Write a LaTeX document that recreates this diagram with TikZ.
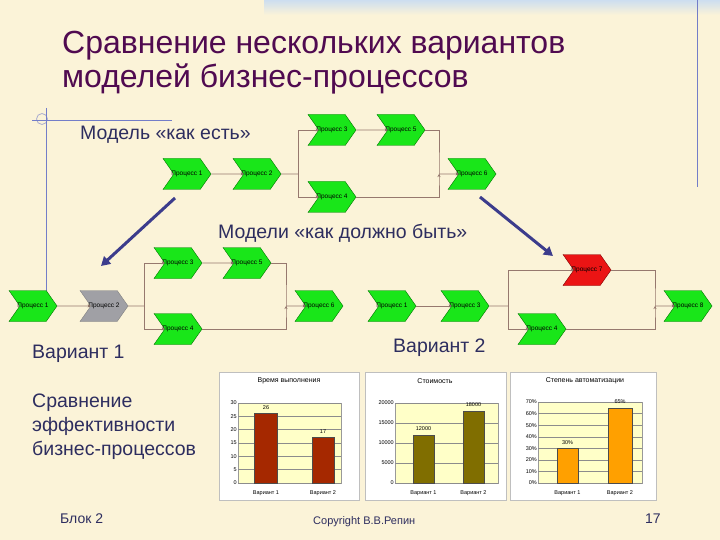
\documentclass[tikz,border=0pt]{standalone}
\usepackage{fontspec}
\setmainfont{Liberation Sans}
\usetikzlibrary{shapes.symbols,arrows.meta}

\definecolor{slidebg}{RGB}{251,243,216}
\definecolor{stripblue}{RGB}{205,222,240}
\definecolor{titlecol}{RGB}{80,10,80}
\definecolor{textcol}{RGB}{45,45,95}
\definecolor{arrowcol}{RGB}{60,60,140}
\definecolor{linecol}{RGB}{150,120,110}
\definecolor{decoblue}{RGB}{115,125,200}
\definecolor{procgreen}{RGB}{25,230,25}
\definecolor{procred}{RGB}{235,20,20}
\definecolor{procgrey}{RGB}{160,160,165}
\definecolor{plotbg}{RGB}{255,255,200}
\definecolor{barred}{RGB}{165,40,0}
\definecolor{barolive}{RGB}{128,110,0}
\definecolor{barorange}{RGB}{255,160,0}

\tikzset{
  proc/.style={shape=signal, signal to=east, signal from=west, signal pointer angle=110,
    draw=green!45!black, fill=procgreen, minimum width=48pt, minimum height=31pt,
    inner xsep=-2.5pt, inner ysep=0pt, font=\fontsize{6.5}{7}\selectfont},
  flow/.style={draw=linecol, line width=0.6pt, -{Stealth[length=3pt,width=3pt]}},
  link/.style={draw=linecol, line width=0.6pt},
  bigarrow/.style={draw=arrowcol, line width=3pt, -{Triangle[length=9pt,width=10pt]}},
  slidetext/.style={text=textcol, font=\fontsize{19.5}{23}\selectfont, anchor=base west, inner sep=0pt},
  titletext/.style={text=titlecol, font=\fontsize{32}{38}\selectfont, anchor=base west, inner sep=0pt},
  deco/.style={draw=decoblue, line width=0.8pt},
  panel/.style={fill=white, draw=black!25, line width=0.6pt},
  plotarea/.style={fill=plotbg, draw=black!40, line width=0.4pt},
  grid/.style={draw=black!45, line width=0.4pt},
  tick/.style={font=\fontsize{5.5}{6}\selectfont, inner sep=1pt},
  charttitle/.style={font=\fontsize{7}{8}\selectfont, inner sep=0pt},
  bar/.style={draw=black!70, line width=0.5pt},
}

\begin{document}
\begin{tikzpicture}[x=1pt, y=-1pt]
	\useasboundingbox (0,0) rectangle (720,540);
	\fill[slidebg] (0,0) rectangle (720,540);
	\shade[top color=stripblue, bottom color=slidebg] (264,0) rectangle (720,15);
	
	% slide decoration
	\draw[deco] (32,120) -- (172,120);
	\draw[deco] (46,108) -- (46,291);
	\draw[deco] (697,0) -- (697,187);
	\draw[deco, draw opacity=0.6] (42,119) circle (5.5);
	
	% title
	\node[titletext] (title1) at (62,54) {Сравнение нескольких вариантов};
	\node[titletext] (title2) at (62,88) {моделей бизнес-процессов};
	
	\node[slidetext] (asis) at (80,140) {Модель «как есть»};
	\node[slidetext] (tobe) at (218,239) {Модели «как должно быть»};
	\node[slidetext] (var1) at (32,358) {Вариант 1};
	\node[slidetext] (var2) at (393,352) {Вариант 2};
	\node[slidetext] (cmp1) at (32,407) {Сравнение};
	\node[slidetext] (cmp2) at (32,431) {эффективности};
	\node[slidetext] (cmp3) at (32,455) {бизнес-процессов};
	
	% model "as is"
	\node[proc] (a1) at (187,174) {Процесс 1};
	\node[proc] (a2) at (257,174) {Процесс 2};
	\node[proc] (a3) at (332,130) {Процесс 3};
	\node[proc] (a5) at (401,130) {Процесс 5};
	\node[proc] (a4) at (332,197) {Процесс 4};
	\node[proc] (a6) at (472,174) {Процесс 6};
	\coordinate (sa) at (298,174);
	\coordinate (ja) at (439,174);
	
	\path[flow] (a1) edge (a2);
	\path[flow] (a3) edge (a5);
	\draw[link] (a2) -- (sa);
	\draw[flow] (sa) |- (a3);
	\draw[flow] (sa) |- (a4);
	\draw[link] (a5) -| (ja) |- (a4);
	\path[flow] (ja) edge (a6);
	
	% variant 1
	\node[proc] (v1) at (33,306) {Процесс 1};
	\node[proc, fill=procgrey, draw=black!50] (v2) at (104,306) {Процесс 2};
	\node[proc] (v3) at (178,263) {Процесс 3};
	\node[proc] (v5) at (247,263) {Процесс 5};
	\node[proc] (v4) at (178,329) {Процесс 4};
	\node[proc] (v6) at (319,306) {Процесс 6};
	\coordinate (sv) at (144,306);
	\coordinate (jv) at (286,306);
	
	\path[flow] (v1) edge (v2);
	\path[flow] (v3) edge (v5);
	\draw[link] (v2) -- (sv);
	\draw[flow] (sv) |- (v3);
	\draw[flow] (sv) |- (v4);
	\draw[link] (v5) -| (jv) |- (v4);
	\path[flow] (jv) edge (v6);
	
	% variant 2
	\node[proc] (w1) at (392,306) {Процесс 1};
	\node[proc] (w3) at (465,306) {Процесс 3};
	\node[proc, fill=procred, draw=red!50!black] (w7) at (587,270) {Процесс 7};
	\node[proc] (w4) at (542,329) {Процесс 4};
	\node[proc] (w8) at (688,306) {Процесс 8};
	\coordinate (sw) at (508,306);
	\coordinate (jw) at (655,306);
	
	\path[flow] (w1) edge (w3);
	\draw[link] (w3) -- (sw);
	\draw[flow] (sw) |- (w7);
	\draw[flow] (sw) |- (w4);
	\draw[link] (w7) -| (jw) |- (w4);
	\path[flow] (jw) edge (w8);
	
	% arrows to the variants
	\coordinate (l-from) at (175,198);
	\coordinate (l-to) at (101,266);
	\coordinate (r-from) at (480,197);
	\coordinate (r-to) at (553,256);
	\draw[bigarrow] (l-from) -- (l-to);
	\draw[bigarrow] (r-from) -- (r-to);
	
	% chart: time
	\draw[panel] (219,372) rectangle (359,500);
	\node[charttitle] (c1title) at (289,381) {Время выполнения};
	\draw[plotarea] (238,403) rectangle (341,483);
	\foreach \v in {0,5,...,30} {
		\draw[grid] (238,{483-\v*80/30}) -- (341,{483-\v*80/30});
		\node[tick, anchor=east] (c1t\v) at (238,{483-\v*80/30}) {\v};
	}
	\draw[bar, fill=barred] (254.5,483) rectangle (277.5,{483-26*80/30});
	\draw[bar, fill=barred] (312,483) rectangle (334,{483-17*80/30});
	\node[tick] (c1v1) at (266,{477-26*80/30}) {26};
	\node[tick] (c1v2) at (323,{477-17*80/30}) {17};
	\node[tick] (c1x1) at (266,493) {Вариант 1};
	\node[tick] (c1x2) at (323,493) {Вариант 2};
	
	% chart: cost (values in thousands)
	\draw[panel] (365,372) rectangle (506,500);
	\node[charttitle] (c2title) at (435,381) {Стоимость};
	\draw[plotarea] (395,403) rectangle (498,483);
	\foreach \v/\lab in {0/0,5/5000,10/10000,15/15000,20/20000} {
		\draw[grid] (395,{483-\v*4}) -- (498,{483-\v*4});
		\node[tick, anchor=east] (c2t\v) at (395,{483-\v*4}) {\lab};
	}
	\draw[bar, fill=barolive] (413,483) rectangle (434,{483-12*4});
	\draw[bar, fill=barolive] (463,483) rectangle (484,{483-18*4});
	\node[tick] (c2v1) at (423.5,{477-12*4}) {12000};
	\node[tick] (c2v2) at (473.5,{477-18*4}) {18000};
	\node[tick] (c2x1) at (423.5,493) {Вариант 1};
	\node[tick] (c2x2) at (473.5,493) {Вариант 2};
	
	% chart: automation
	\draw[panel] (510,372) rectangle (656,500);
	\node[charttitle] (c3title) at (585,381) {Степень автоматизации};
	\draw[plotarea] (538,402) rectangle (642,483);
	\foreach \v in {0,10,...,70} {
		\draw[grid] (538,{483-\v*81/70}) -- (642,{483-\v*81/70});
		\node[tick, anchor=east] (c3t\v) at (538,{483-\v*81/70}) {\v\%};
	}
	\draw[bar, fill=barorange] (557,483) rectangle (578,{483-30*81/70});
	\draw[bar, fill=barorange] (608,483) rectangle (632,{483-65*81/70});
	\node[tick] (c3v1) at (567.5,{477-30*81/70}) {30\%};
	\node[tick] (c3v2) at (620,{477-65*81/70}) {65\%};
	\node[tick] (c3x1) at (567.5,493) {Вариант 1};
	\node[tick] (c3x2) at (620,493) {Вариант 2};
	
	% footer
	\node[slidetext, font=\fontsize{14}{16}\selectfont] (block) at (60,523) {Блок 2};
	\node[slidetext, font=\fontsize{11}{13}\selectfont] (copy) at (313,524) {Copyright В.В.Репин};
	\node[slidetext, font=\fontsize{14}{16}\selectfont] (page) at (645,523) {17};
\end{tikzpicture}
\end{document}
